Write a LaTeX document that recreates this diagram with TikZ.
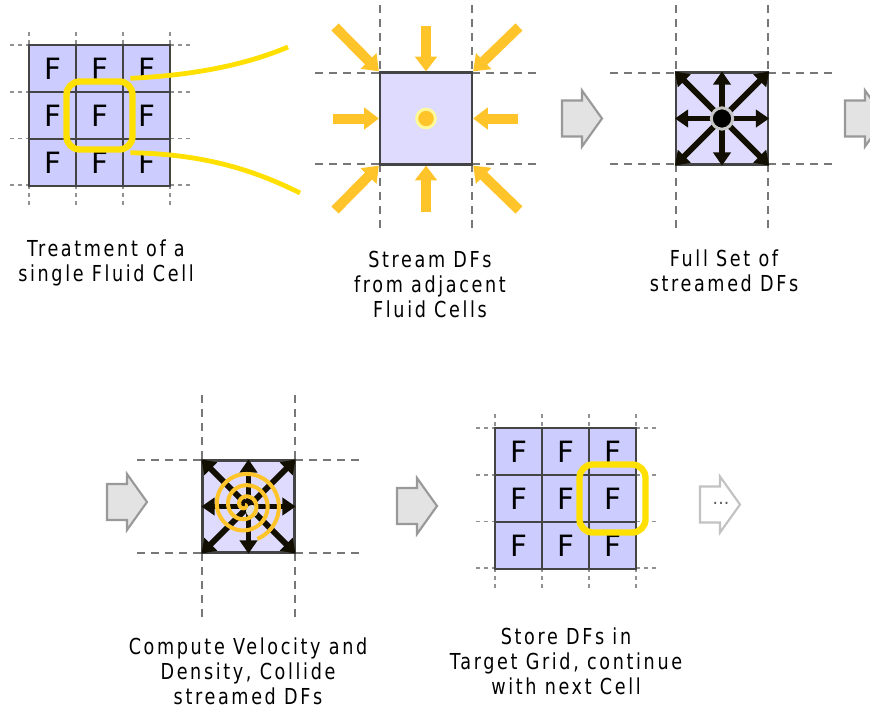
\documentclass[tikz,border=0pt]{standalone}
\usepackage{fontspec}
\setmainfont{DejaVu Sans}
\newfontfamily\labfont[FakeStretch=0.8,LetterSpace=12]{DejaVu Sans}
\usetikzlibrary{arrows.meta}
\definecolor{cellfill}{HTML}{CCCCFF}
\definecolor{sqfill}{HTML}{DEDBFF}
\definecolor{gridline}{HTML}{444444}
\definecolor{dashgray}{HTML}{777777}
\definecolor{hiyellow}{HTML}{FFE000}
\definecolor{streamorange}{HTML}{FFC42A}
\definecolor{dfblack}{HTML}{120F00}
\definecolor{blockfill}{HTML}{E3E3E3}
\definecolor{blockline}{HTML}{999999}
\newcommand\blockarr[3]{%
  \draw[#3] (#1,#2-18) -- (#1+20,#2-18) -- (#1+20,#2-28) -- (#1+40,#2) -- (#1+20,#2+28) -- (#1+20,#2+18) -- (#1,#2+18) -- cycle;}
\tikzset{
 cell/.style={draw=gridline, line width=1.9pt, fill=cellfill, minimum size=35.25pt, inner sep=0pt, font=\fontsize{22}{22}\selectfont},
 sq/.style={draw=gridline, line width=1.7pt, fill=sqfill, minimum size=69pt, inner sep=0pt},
 gridext/.style={draw=dashgray!80, line width=1.1pt, dash pattern=on 3pt off 3pt},
 panelext/.style={draw=dashgray, line width=1.6pt, dash pattern=on 6pt off 4.5pt},
 hilite/.style={draw=hiyellow, line width=4.8pt, rounded corners=10pt, minimum width=49.5pt, minimum height=51pt, inner sep=0pt},
 ycurve/.style={draw=hiyellow, line width=3.6pt},
 stream/.style={draw=streamorange, line width=7.5pt, -{Triangle[length=11pt,width=16pt]}},
 df/.style={draw=dfblack, line width=4.3pt, -{Triangle[length=10pt,width=13pt]}},
 block/.style={draw=blockline, fill=blockfill, line width=1.6pt},
 blocklight/.style={draw=blockline!60, fill=white, line width=1.6pt},
 spiral/.style={draw=streamorange, line width=3pt},
 lab/.style={font=\labfont\fontsize{16.5}{18.75}\selectfont, align=center, text=black},
}
\begin{document}
\begin{tikzpicture}[x=0.75pt,y=-0.75pt]
\useasboundingbox (0,0) rectangle (870,711);

% ---------- Grid 1 ----------
\foreach \y in {45,92,138.5,185} {\draw[gridext] (10,\y) -- (29,\y); \draw[gridext] (170,\y) -- (190,\y);}
\foreach \x in {29,76,123,170} {\draw[gridext] (\x,32) -- (\x,45); \draw[gridext] (\x,185) -- (\x,205);}
\foreach \i in {0,1,2} \foreach \j in {0,1,2}
  \node[cell] (a\i\j) at ({52.5+47*\i},{68.5+47*\j}) {F};
\node[hilite] (h1) at (a11) {};
\coordinate (c1e) at (288,47);
\coordinate (c2e) at (300,193);
\draw[ycurve] ([xshift=-4pt]h1.north east) .. controls (200,75) and (250,63) .. (c1e);
\draw[ycurve] ([xshift=-4pt]h1.south east) .. controls (200,154) and (250,168) .. (c2e);

% ---------- Panel 2 ----------
\foreach \x in {380,472} {\draw[panelext] (\x,5) -- (\x,73); \draw[panelext] (\x,164) -- (\x,232);}
\foreach \y in {73,164} {\draw[panelext] (315,\y) -- (380,\y); \draw[panelext] (472,\y) -- (538,\y);}
\node[sq] (p2) at (426,118.5) {};
\coordinate (s-nw) at (335,27);
\coordinate (s-n) at (426,26);
\coordinate (s-ne) at (519,27);
\coordinate (s-w) at (333,118.5);
\coordinate (s-e) at (518,118.5);
\coordinate (s-sw) at (335,210);
\coordinate (s-s) at (426,212);
\coordinate (s-se) at (519,210);
\draw[stream] (s-nw) -- (p2.north west);
\draw[stream] (s-n) -- (p2.north);
\draw[stream] (s-ne) -- (p2.north east);
\draw[stream] (s-w) -- (p2.west);
\draw[stream] (s-e) -- (p2.east);
\draw[stream] (s-sw) -- (p2.south west);
\draw[stream] (s-s) -- (p2.south);
\draw[stream] (s-se) -- (p2.south east);
\node[circle, fill=streamorange, draw=yellow!40, line width=2.2pt, minimum size=14pt, inner sep=0pt] (d2) at (p2.center) {};

% ---------- Arrow 1 ----------
\blockarr{562}{118.5}{block}

% ---------- Panel 3 ----------
\foreach \x in {676,768} {\draw[panelext] (\x,5) -- (\x,73); \draw[panelext] (\x,164) -- (\x,232);}
\foreach \y in {73,164} {\draw[panelext] (610,\y) -- (676,\y); \draw[panelext] (768,\y) -- (834,\y);}
\node[sq] (p3) at (722,118.5) {};
\foreach \a in {north,north east,east,south east,south,south west,west,north west}
  \draw[df] (p3.center) -- (p3.\a);
\node[circle, fill=black, draw=gray!45, line width=2.2pt, minimum size=16pt, inner sep=0pt] (d3) at (p3.center) {};

% ---------- Arrow 2 ----------
\blockarr{845}{118.5}{block}

% ---------- Panel 4 ----------
\blockarr{107}{502}{block}
\foreach \x in {202,295} {\draw[panelext] (\x,395) -- (\x,460); \draw[panelext] (\x,553) -- (\x,620);}
\foreach \y in {460,553} {\draw[panelext] (137,\y) -- (202,\y); \draw[panelext] (295,\y) -- (361,\y);}
\node[sq] (p4) at (248.5,506.5) {};
\foreach \a in {north,north east,east,south east,south,south west,west,north west}
  \draw[df] (p4.center) -- (p4.\a);
\node[circle, fill=gray!25, minimum size=9pt, inner sep=0pt] (d4) at (252,511) {};
\draw[spiral] plot[domain=0:1150, samples=300, variable=\t] ({245+(\t*0.0313)*cos(\t)},{505+(\t*0.0313)*sin(\t)});

% ---------- Arrow 3 ----------
\blockarr{397}{506}{block}

% ---------- Grid 5 ----------
\foreach \y in {428,475,521.5,568} {\draw[gridext] (476,\y) -- (495,\y); \draw[gridext] (636,\y) -- (656,\y);}
\foreach \x in {495,542,589,636} {\draw[gridext] (\x,414) -- (\x,428); \draw[gridext] (\x,568) -- (\x,588);}
\foreach \i in {0,1,2} \foreach \j in {0,1,2}
  \node[cell] (b\i\j) at ({518.5+47*\i},{451.5+47*\j}) {F};
\node[hilite] (h5) at (b21) {};

% ---------- Arrow 4 (next) ----------
\blockarr{700}{504.5}{blocklight}
\node[font=\fontsize{13}{13}\selectfont, text=gray!70!black] (dots) at (721,503) {...};

% ---------- Labels ----------
\node[lab] (l1) at (106,263) {Treatment of a\\single Fluid Cell};
\node[lab] (l2) at (430,284) {Stream DFs\\from adjacent\\Fluid Cells};
\node[lab] (l3) at (724,271) {Full Set of\\streamed DFs};
\node[lab] (l4) at (248,671) {Compute Velocity and\\Density, Collide\\streamed DFs};
\node[lab] (l5) at (566,661) {Store DFs in\\Target Grid, continue\\with next Cell};
\end{tikzpicture}
\end{document}
